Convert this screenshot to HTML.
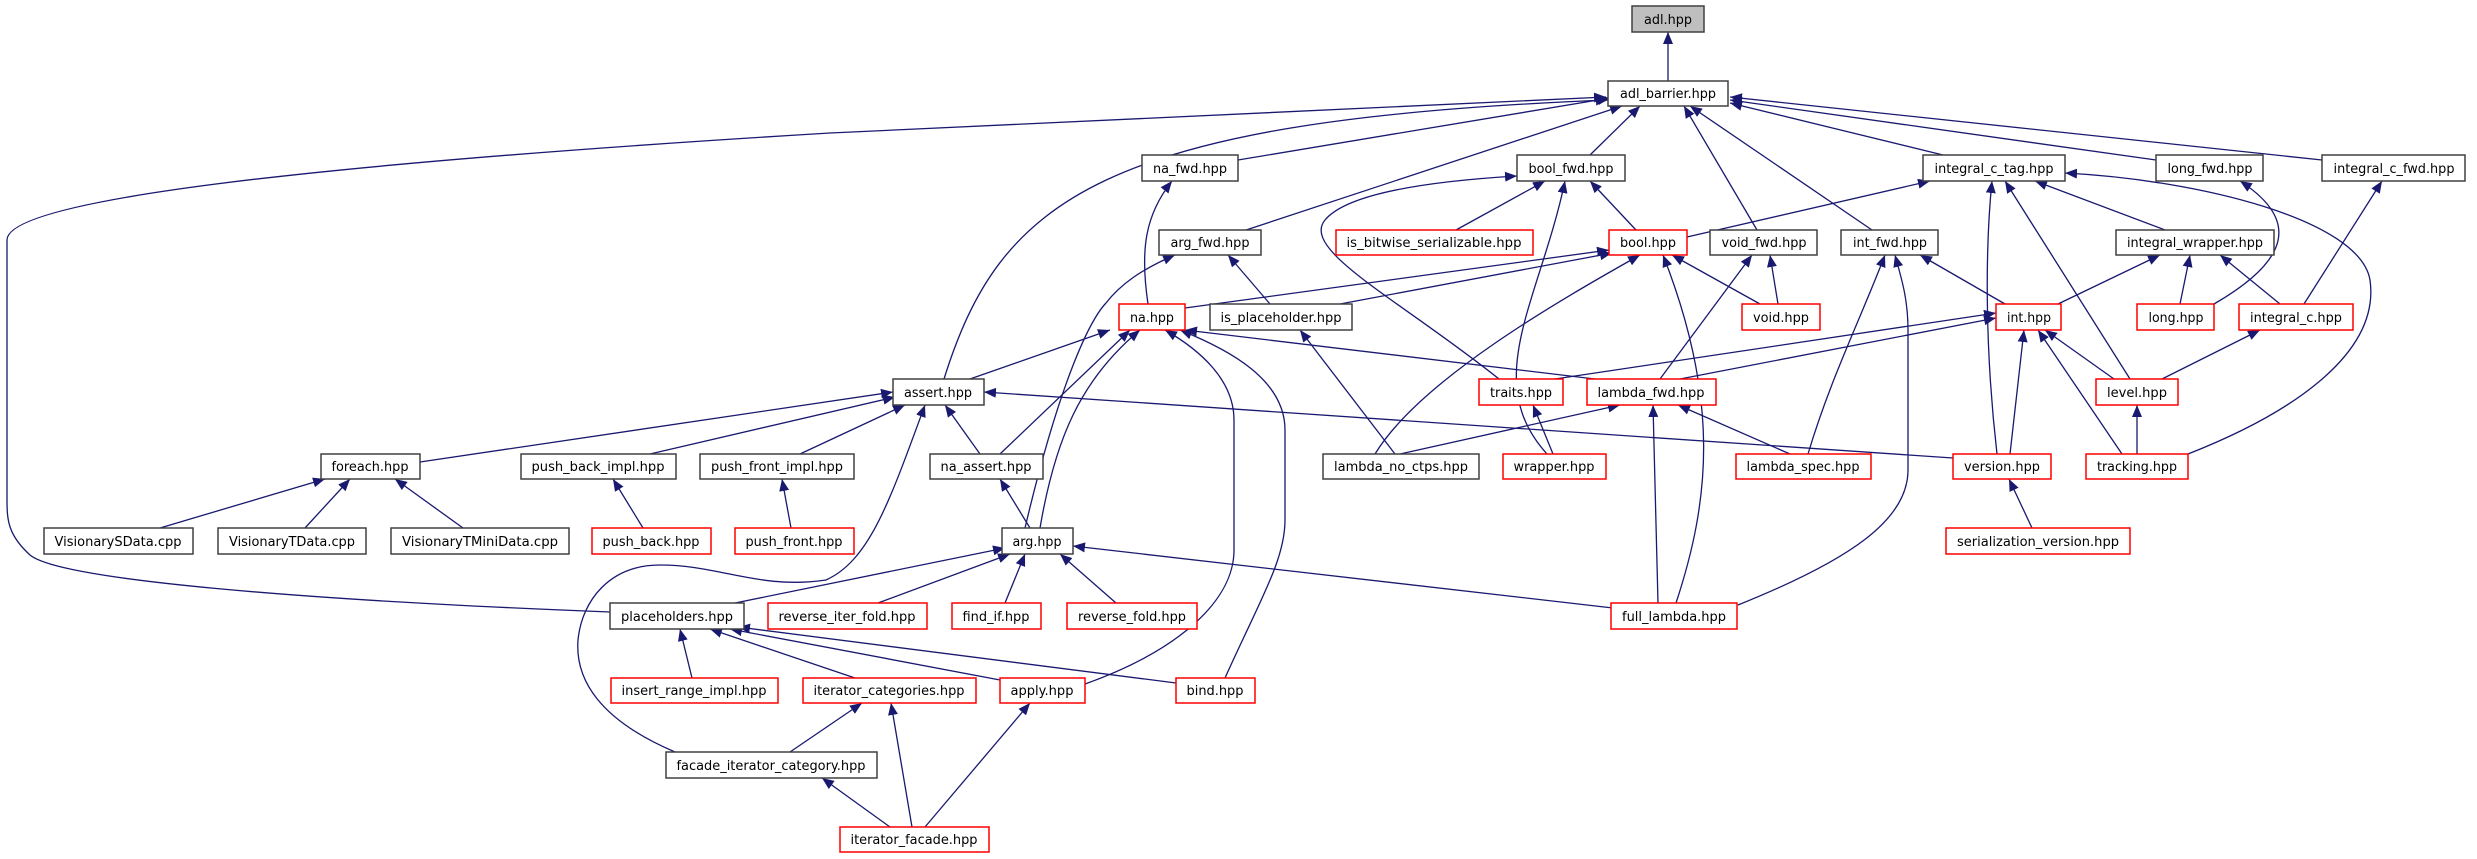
<!DOCTYPE html>
<html><head><meta charset="utf-8"><style>html,body{margin:0;padding:0;background:#fff}svg{display:block}</style></head><body>
<svg xmlns="http://www.w3.org/2000/svg" width="2477" height="859" viewBox="0 0 2477 859">
<defs><marker id="a" markerWidth="12" markerHeight="10" refX="12" refY="5" orient="auto" markerUnits="userSpaceOnUse"><path d="M0,0 L12,5 L0,10 z" fill="#191970"/></marker></defs>
<g fill="none" stroke="#191970" stroke-width="1.3" marker-end="url(#a)">
<path d="M1668,81 L1668,32"/>
<path d="M1238,160 L1610,98"/>
<path d="M1590,155 L1640,106"/>
<path d="M1246,230 L1622,106"/>
<path d="M944,379 C1000,200 1100,120 1608,100"/>
<path d="M610,612 C300,600 60,580 30,555 C8,535 7,520 7,500 L7,240 C7,200 300,165 830,133 L1606,97"/>
<path d="M1757,230 L1684,106"/>
<path d="M1872,230 L1690,106"/>
<path d="M1943,155 L1730,103"/>
<path d="M2156,160 L1730,100"/>
<path d="M2322,160 L1730,97"/>
<path d="M1148,304 C1140,250 1145,215 1172,181"/>
<path d="M1499,379 C1400,300 1300,250 1325,220 C1350,190 1450,180 1517,176"/>
<path d="M1456,230 L1545,181"/>
<path d="M1636,230 L1590,181"/>
<path d="M1547,454 C1480,380 1540,300 1565,181"/>
<path d="M1687,237 L1930,181"/>
<path d="M1997,454 C1985,350 1985,250 1992,181"/>
<path d="M2130,379 L2005,181"/>
<path d="M2165,230 L2035,181"/>
<path d="M2188,454 C2300,410 2380,350 2370,280 C2360,220 2200,180 2065,173"/>
<path d="M2214,304 C2290,260 2300,220 2240,181"/>
<path d="M2304,304 L2382,181"/>
<path d="M1025,528 C1060,380 1090,320 1106,303 C1120,285 1140,270 1175,255"/>
<path d="M1270,304 L1228,255"/>
<path d="M1185,308 L1609,250"/>
<path d="M1340,304 L1612,253"/>
<path d="M1760,304 L1672,255"/>
<path d="M1375,454 C1420,380 1560,300 1640,255"/>
<path d="M1676,603 C1710,500 1720,400 1663,255"/>
<path d="M1778,304 L1770,255"/>
<path d="M1660,379 L1752,255"/>
<path d="M1808,454 C1830,380 1860,320 1885,255"/>
<path d="M2005,304 L1920,255"/>
<path d="M1738,605 C1850,560 1908,520 1908,470 L1908,330 C1908,300 1902,280 1895,255"/>
<path d="M2058,304 L2160,255"/>
<path d="M2180,304 L2190,255"/>
<path d="M2280,304 L2220,255"/>
<path d="M970,379 L1110,330"/>
<path d="M1000,454 L1130,330"/>
<path d="M1040,528 C1055,440 1080,380 1140,330"/>
<path d="M1085,684 C1180,650 1234,600 1234,550 L1234,420 C1234,380 1200,350 1165,330"/>
<path d="M1225,678 C1260,600 1285,560 1285,520 L1285,430 C1285,380 1230,350 1180,330"/>
<path d="M1595,379 L1185,330"/>
<path d="M1395,454 L1300,330"/>
<path d="M1555,379 L1996,313"/>
<path d="M1680,379 L1996,318"/>
<path d="M2010,454 L2024,330"/>
<path d="M2114,379 L2045,330"/>
<path d="M2122,454 L2038,330"/>
<path d="M2162,379 L2260,330"/>
<path d="M420,462 L893,392"/>
<path d="M650,454 L895,397"/>
<path d="M800,454 L905,405"/>
<path d="M980,454 L945,405"/>
<path d="M675,752 C600,720 575,680 578,640 C582,600 610,565 660,565 C720,565 760,590 826,580 C870,560 890,500 925,405"/>
<path d="M1953,458 L984,392"/>
<path d="M1553,454 L1533,405"/>
<path d="M1400,454 L1620,405"/>
<path d="M1790,454 L1678,405"/>
<path d="M1658,603 L1653,405"/>
<path d="M2137,454 L2137,405"/>
<path d="M160,528 L325,479"/>
<path d="M305,528 L350,479"/>
<path d="M463,528 L395,479"/>
<path d="M643,528 L613,479"/>
<path d="M791,528 L782,479"/>
<path d="M1030,528 L1000,479"/>
<path d="M2032,528 L2009,479"/>
<path d="M735,603 L1005,548"/>
<path d="M878,603 L1010,554"/>
<path d="M1005,603 L1025,554"/>
<path d="M1116,603 L1060,554"/>
<path d="M1613,608 L1073,546"/>
<path d="M692,678 L680,629"/>
<path d="M855,678 L710,629"/>
<path d="M1000,680 L730,629"/>
<path d="M1176,683 L738,627"/>
<path d="M790,752 L862,703"/>
<path d="M912,827 L891,703"/>
<path d="M890,827 L822,778"/>
<path d="M925,827 L1030,703"/>
</g>
<g font-family="DejaVu Sans, Liberation Sans, sans-serif" font-size="13" text-anchor="middle" fill="#000" stroke-width="1.5">
<!-- black -->
<g fill="#fff" stroke="#404040">
<rect x="1632" y="6" width="72" height="26" fill="#bfbfbf"/>
<rect x="1608" y="81" width="120" height="25"/>
<rect x="1142" y="155" width="96" height="26"/>
<rect x="1517" y="155" width="108" height="26"/>
<rect x="1923" y="155" width="142" height="26"/>
<rect x="2156" y="155" width="107" height="26"/>
<rect x="2322" y="155" width="143" height="26"/>
<rect x="1159" y="230" width="102" height="25"/>
<rect x="1710" y="230" width="107" height="25"/>
<rect x="1841" y="230" width="97" height="25"/>
<rect x="2116" y="230" width="158" height="25"/>
<rect x="1210" y="304" width="142" height="26"/>
<rect x="893" y="379" width="91" height="26"/>
<rect x="321" y="454" width="99" height="25"/>
<rect x="521" y="454" width="155" height="25"/>
<rect x="700" y="454" width="154" height="25"/>
<rect x="930" y="454" width="113" height="25"/>
<rect x="1323" y="454" width="156" height="25"/>
<rect x="44" y="528" width="149" height="26"/>
<rect x="218" y="528" width="148" height="26"/>
<rect x="391" y="528" width="178" height="26"/>
<rect x="1002" y="528" width="71" height="26"/>
<rect x="610" y="603" width="134" height="26"/>
<rect x="666" y="752" width="211" height="26"/>
</g>
<g fill="#fff" stroke="#ff0000">
<rect x="1336" y="230" width="197" height="25"/>
<rect x="1609" y="230" width="78" height="25"/>
<rect x="1119" y="304" width="66" height="26"/>
<rect x="1742" y="304" width="78" height="26"/>
<rect x="1996" y="304" width="65" height="26"/>
<rect x="2137" y="304" width="77" height="26"/>
<rect x="2239" y="304" width="114" height="26"/>
<rect x="1479" y="379" width="84" height="26"/>
<rect x="1587" y="379" width="129" height="26"/>
<rect x="2096" y="379" width="82" height="26"/>
<rect x="1503" y="454" width="103" height="25"/>
<rect x="1736" y="454" width="135" height="25"/>
<rect x="1953" y="454" width="98" height="25"/>
<rect x="2086" y="454" width="102" height="25"/>
<rect x="592" y="528" width="119" height="26"/>
<rect x="735" y="528" width="119" height="26"/>
<rect x="1946" y="528" width="184" height="26"/>
<rect x="768" y="603" width="159" height="26"/>
<rect x="952" y="603" width="89" height="26"/>
<rect x="1067" y="603" width="130" height="26"/>
<rect x="1611" y="603" width="126" height="26"/>
<rect x="611" y="678" width="167" height="25"/>
<rect x="803" y="678" width="173" height="25"/>
<rect x="1000" y="678" width="85" height="25"/>
<rect x="1176" y="678" width="79" height="25"/>
<rect x="840" y="827" width="149" height="25"/>
</g>
<g stroke="none" lengthAdjust="spacingAndGlyphs">
<text x="1668" y="24" textLength="48" lengthAdjust="spacingAndGlyphs">adl.hpp</text>
<text x="1668" y="98" textLength="96" lengthAdjust="spacingAndGlyphs">adl_barrier.hpp</text>
<text x="1190" y="173" textLength="74" lengthAdjust="spacingAndGlyphs">na_fwd.hpp</text>
<text x="1571" y="173" textLength="85" lengthAdjust="spacingAndGlyphs">bool_fwd.hpp</text>
<text x="1994" y="173" textLength="119" lengthAdjust="spacingAndGlyphs">integral_c_tag.hpp</text>
<text x="2210" y="173" textLength="85" lengthAdjust="spacingAndGlyphs">long_fwd.hpp</text>
<text x="2394" y="173" textLength="121" lengthAdjust="spacingAndGlyphs">integral_c_fwd.hpp</text>
<text x="1210" y="247" textLength="79" lengthAdjust="spacingAndGlyphs">arg_fwd.hpp</text>
<text x="1434" y="247" textLength="175" lengthAdjust="spacingAndGlyphs">is_bitwise_serializable.hpp</text>
<text x="1648" y="247" textLength="56" lengthAdjust="spacingAndGlyphs">bool.hpp</text>
<text x="1764" y="247" textLength="85" lengthAdjust="spacingAndGlyphs">void_fwd.hpp</text>
<text x="1890" y="247" textLength="74" lengthAdjust="spacingAndGlyphs">int_fwd.hpp</text>
<text x="2195" y="247" textLength="136" lengthAdjust="spacingAndGlyphs">integral_wrapper.hpp</text>
<text x="1152" y="322" textLength="44" lengthAdjust="spacingAndGlyphs">na.hpp</text>
<text x="1281" y="322" textLength="121" lengthAdjust="spacingAndGlyphs">is_placeholder.hpp</text>
<text x="1781" y="322" textLength="56" lengthAdjust="spacingAndGlyphs">void.hpp</text>
<text x="2029" y="322" textLength="44" lengthAdjust="spacingAndGlyphs">int.hpp</text>
<text x="2176" y="322" textLength="55" lengthAdjust="spacingAndGlyphs">long.hpp</text>
<text x="2296" y="322" textLength="92" lengthAdjust="spacingAndGlyphs">integral_c.hpp</text>
<text x="938" y="397" textLength="68" lengthAdjust="spacingAndGlyphs">assert.hpp</text>
<text x="1521" y="397" textLength="62" lengthAdjust="spacingAndGlyphs">traits.hpp</text>
<text x="1651" y="397" textLength="107" lengthAdjust="spacingAndGlyphs">lambda_fwd.hpp</text>
<text x="2137" y="397" textLength="60" lengthAdjust="spacingAndGlyphs">level.hpp</text>
<text x="370" y="471" textLength="77" lengthAdjust="spacingAndGlyphs">foreach.hpp</text>
<text x="598" y="471" textLength="133" lengthAdjust="spacingAndGlyphs">push_back_impl.hpp</text>
<text x="777" y="471" textLength="132" lengthAdjust="spacingAndGlyphs">push_front_impl.hpp</text>
<text x="986" y="471" textLength="91" lengthAdjust="spacingAndGlyphs">na_assert.hpp</text>
<text x="1401" y="471" textLength="134" lengthAdjust="spacingAndGlyphs">lambda_no_ctps.hpp</text>
<text x="1554" y="471" textLength="81" lengthAdjust="spacingAndGlyphs">wrapper.hpp</text>
<text x="1803" y="471" textLength="113" lengthAdjust="spacingAndGlyphs">lambda_spec.hpp</text>
<text x="2002" y="471" textLength="76" lengthAdjust="spacingAndGlyphs">version.hpp</text>
<text x="2137" y="471" textLength="80" lengthAdjust="spacingAndGlyphs">tracking.hpp</text>
<text x="118" y="546" textLength="127" lengthAdjust="spacingAndGlyphs">VisionarySData.cpp</text>
<text x="292" y="546" textLength="126" lengthAdjust="spacingAndGlyphs">VisionaryTData.cpp</text>
<text x="480" y="546" textLength="156" lengthAdjust="spacingAndGlyphs">VisionaryTMiniData.cpp</text>
<text x="651" y="546" textLength="97" lengthAdjust="spacingAndGlyphs">push_back.hpp</text>
<text x="794" y="546" textLength="97" lengthAdjust="spacingAndGlyphs">push_front.hpp</text>
<text x="1037" y="546" textLength="49" lengthAdjust="spacingAndGlyphs">arg.hpp</text>
<text x="2038" y="546" textLength="162" lengthAdjust="spacingAndGlyphs">serialization_version.hpp</text>
<text x="677" y="621" textLength="112" lengthAdjust="spacingAndGlyphs">placeholders.hpp</text>
<text x="847" y="621" textLength="137" lengthAdjust="spacingAndGlyphs">reverse_iter_fold.hpp</text>
<text x="996" y="621" textLength="67" lengthAdjust="spacingAndGlyphs">find_if.hpp</text>
<text x="1132" y="621" textLength="108" lengthAdjust="spacingAndGlyphs">reverse_fold.hpp</text>
<text x="1674" y="621" textLength="104" lengthAdjust="spacingAndGlyphs">full_lambda.hpp</text>
<text x="694" y="695" textLength="145" lengthAdjust="spacingAndGlyphs">insert_range_impl.hpp</text>
<text x="889" y="695" textLength="151" lengthAdjust="spacingAndGlyphs">iterator_categories.hpp</text>
<text x="1042" y="695" textLength="63" lengthAdjust="spacingAndGlyphs">apply.hpp</text>
<text x="1215" y="695" textLength="57" lengthAdjust="spacingAndGlyphs">bind.hpp</text>
<text x="771" y="770" textLength="189" lengthAdjust="spacingAndGlyphs">facade_iterator_category.hpp</text>
<text x="914" y="844" textLength="127" lengthAdjust="spacingAndGlyphs">iterator_facade.hpp</text>
</g>
</g>
</svg>
</body></html>
